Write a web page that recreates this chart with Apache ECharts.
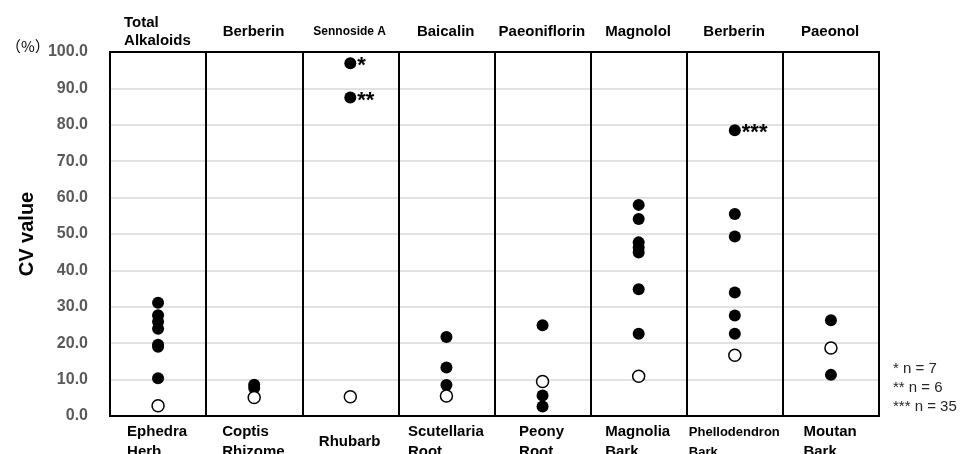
<!DOCTYPE html>
<html>
<head>
<meta charset="utf-8">
<script src="https://cdn.jsdelivr.net/npm/echarts@6/dist/echarts.min.js"></script>
<style>
  html, body { margin: 0; padding: 0; background: #fff; }
  #main { width: 971px; height: 454px; }
</style>
</head>
<body>
<div id="main"></div>
<script>
// crude drugs (bottom) and their marker compounds (top)
var drugs = ['Ephedra\nHerb', 'Coptis\nRhizome', 'Rhubarb', 'Scutellaria\nRoot', 'Peony\nRoot', 'Magnolia\nBark', 'Phellodendron\nBark', 'Moutan\nBark'];
var compounds = ['Total\nAlkaloids', 'Berberin', 'Sennoside A', 'Baicalin', 'Paeoniflorin', 'Magnolol', 'Berberin', 'Paeonol'];

// CV values (%) - filled dots
var filledCV = [
    [31.1, 27.7, 25.9, 24.0, 19.6, 19.0, 10.4],
    [8.6, 7.7],
    [96.9, 87.5],
    [21.7, 13.3, 8.5],
    [24.9, 5.6, 2.6],
    [58.0, 54.1, 47.7, 46.3, 44.9, 34.8, 22.6],
    [78.5, 55.5, 49.3, 33.9, 27.6, 22.6],
    [26.3, 11.3]
];
// footnote marks on the first filled dots of a drug
var filledNotes = [[], [], ['*', '**'], [], [], [], ['***'], []];
// open dots
var openCV = [2.8, 5.1, 5.3, 5.5, 9.5, 10.9, 16.7, 18.7];
var yTicks = [0, 10, 20, 30, 40, 50, 60, 70, 80, 90, 100];
var footnotes = ['* n = 7', '** n = 6', '*** n = 35'];

var FONT = '"Liberation Sans", Arial, sans-serif';

// measure widest line so lines are left aligned inside a centred block
var cv = document.createElement('canvas').getContext('2d');
function blockWidth(txt, size) {
    cv.font = 'bold ' + size + 'px ' + FONT;
    var w = 0;
    txt.split('\n').forEach(function (l) { w = Math.max(w, cv.measureText(l).width); });
    return Math.ceil(w) + 1;
}

function richFor(list, prefix, sizes, lh) {
    var rich = {};
    list.forEach(function (t, i) {
        rich[prefix + i] = {
            width: blockWidth(t, sizes[i]),
            align: 'left',
            fontSize: sizes[i],
            fontWeight: 'bold',
            fontFamily: FONT,
            color: '#000',
            lineHeight: lh
        };
    });
    return rich;
}
var bottomSizes = [15, 15, 15, 15, 15, 15, 13, 15];
var topSizes = [15, 15, 12, 15, 15, 15, 15, 15];

function wrap(prefix, txt, i) {
    return txt.split('\n').map(function (l) { return '{' + prefix + i + '|' + l + '}'; }).join('\n');
}

var filledData = [];
filledCV.forEach(function (vals, i) {
    vals.forEach(function (v, j) {
        var item = { value: [i, v] };
        if (filledNotes[i][j]) {
            item.label = { show: true, formatter: filledNotes[i][j] };
        }
        filledData.push(item);
    });
});
var openData = openCV.map(function (v, i) { return [i, v]; });

var myChart = echarts.init(document.getElementById('main'));

var option = {
    backgroundColor: '#fff',
    animation: false,
    grid: {
        left: 110,
        right: 92,
        top: 52,
        bottom: 38,
        outerBoundsMode: 'none',
        show: true,
        borderColor: '#000',
        borderWidth: 2
    },
    xAxis: [{
        type: 'category',
        data: drugs,
        position: 'bottom',
        boundaryGap: true,
        axisLine: { show: true, lineStyle: { color: '#000', width: 2 } },
        axisTick: { show: false },
        splitLine: { show: true, lineStyle: { color: '#000', width: 2 } },
        axisLabel: {
            interval: 0,
            margin: 26,
            verticalAlign: 'middle',
            formatter: function (v, i) { return wrap('b', drugs[i], i); },
            rich: richFor(drugs, 'b', bottomSizes, 20)
        }
    }, {
        type: 'category',
        data: drugs,
        position: 'top',
        boundaryGap: true,
        axisLine: { show: true, lineStyle: { color: '#000', width: 2 } },
        axisTick: { show: false },
        axisLabel: {
            interval: 0,
            margin: 20,
            verticalAlign: 'middle',
            formatter: function (v, i) { return wrap('t', compounds[i], i); },
            rich: richFor(compounds, 't', topSizes, 18)
        }
    }],
    yAxis: {
        type: 'value',
        min: yTicks[0],
        max: yTicks[yTicks.length - 1],
        interval: 10,
        name: 'CV value',
        nameLocation: 'middle',
        nameGap: 71,
        nameRotate: 90,
        nameTextStyle: { fontSize: 20, fontWeight: 'bold', color: '#000', fontFamily: FONT },
        axisLine: { show: true, lineStyle: { color: '#000', width: 2 } },
        axisTick: { show: false },
        axisLabel: {
            margin: 22,
            fontSize: 16,
            fontWeight: 'bold',
            color: '#595959',
            fontFamily: FONT,
            formatter: function (v) { return v.toFixed(1); }
        },
        splitLine: { show: true, lineStyle: { color: '#d9d9d9', width: 1.5 } }
    },
    graphic: [{
        type: 'text',
        left: 6,
        top: 39,
        style: { text: '（%）', font: '15px "Noto Sans CJK JP", sans-serif', fill: '#000' }
    }].concat(footnotes.map(function (t, i) {
        return {
            type: 'text',
            left: 893,
            top: 361 + i * 19,
            style: { text: t, font: '15px ' + FONT, fill: '#262626' }
        };
    })),
    series: [{
        type: 'scatter',
        xAxisIndex: 0,
        data: filledData,
        symbolSize: 12,
        itemStyle: { color: '#000', opacity: 1 },
        label: {
            show: false,
            position: 'right',
            distance: 0,
            offset: [1, 3],
            fontSize: 22,
            fontWeight: 'bold',
            color: '#000',
            fontFamily: FONT
        },
        z: 3
    }, {
        type: 'scatter',
        xAxisIndex: 0,
        data: openData,
        symbolSize: 12,
        itemStyle: { color: '#fff', borderColor: '#000', borderWidth: 1.5, opacity: 1 },
        z: 3
    }]
};

if (option && typeof option === 'object') {
    myChart.setOption(option, true);
}
</script>
</body>
</html>
